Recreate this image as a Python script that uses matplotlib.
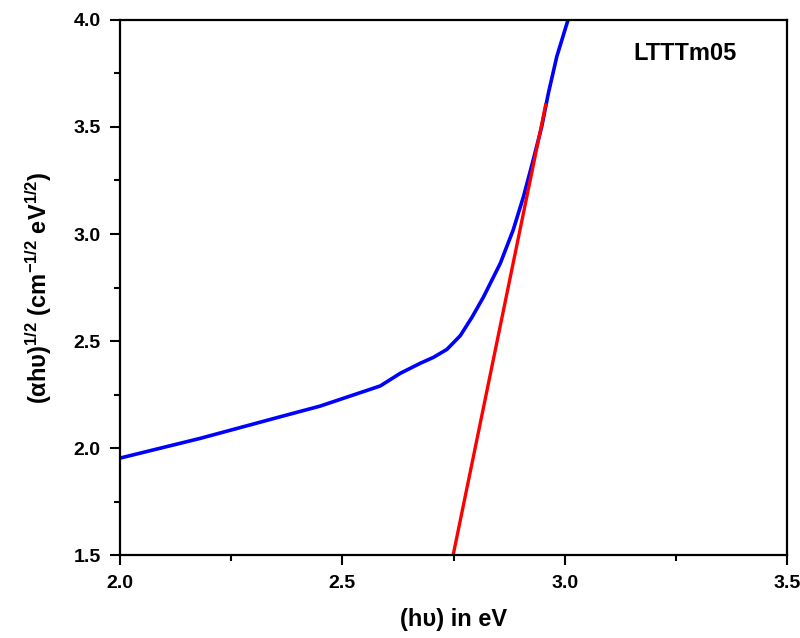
import numpy as np
import matplotlib
matplotlib.use("Agg")
import matplotlib.pyplot as plt

# Tauc plot data
hv_curve = [2.000, 2.180, 2.360, 2.450, 2.585, 2.630, 2.675, 2.705, 2.735,
            2.765, 2.791, 2.817, 2.855, 2.884, 2.907, 2.929, 2.948, 2.963,
            2.982, 3.006]
tauc_curve = [1.953, 2.045, 2.146, 2.196, 2.290, 2.349, 2.396, 2.424, 2.461,
              2.525, 2.610, 2.705, 2.863, 3.019, 3.174, 3.346, 3.501, 3.657,
              3.829, 3.992]

fit_x = [2.749, 2.957]
fit_y = [1.50, 3.603]

sample_name = "LTTTm05"

plt.rcParams["font.family"] = "Liberation Sans"
plt.rcParams["font.weight"] = "bold"
plt.rcParams["mathtext.fontset"] = "custom"
plt.rcParams["mathtext.rm"] = "Liberation Sans:bold"
plt.rcParams["mathtext.it"] = "Liberation Sans:bold"
plt.rcParams["mathtext.bf"] = "Liberation Sans:bold"

fig = plt.figure(figsize=(8, 6.38), dpi=100)
ax = fig.add_axes([0.15, 0.130, 0.834, 0.8387])

ax.plot(hv_curve, tauc_curve, color="#0000ff", linewidth=2.6,
        solid_joinstyle="round")
ax.plot(fit_x, fit_y, color="#ff0000", linewidth=2.4)

ax.set_xlim(2.0, 3.5)
ax.set_ylim(1.5, 4.0)
ax.set_xticks([2.0, 2.5, 3.0, 3.5])
ax.set_yticks([1.5, 2.0, 2.5, 3.0, 3.5, 4.0])
ax.set_xticks(np.arange(2.0, 3.51, 0.25), minor=True)
ax.set_yticks(np.arange(1.5, 4.01, 0.25), minor=True)
ax.xaxis.set_major_formatter(plt.FormatStrFormatter("%.1f"))
ax.yaxis.set_major_formatter(plt.FormatStrFormatter("%.1f"))

ax.tick_params(which="major", direction="out", length=7, width=1.5,
               labelsize=14, pad=7)
ax.tick_params(which="minor", direction="out", length=4, width=1.5)
ax.tick_params(top=False, right=False, which="both")
for s in ax.spines.values():
    s.set_linewidth(1.6)

ax.set_xlabel("(h\u03c5) in eV", fontsize=17, fontweight="bold", labelpad=12)
ax.set_ylabel("(\u03b1h\u03c5)$^{1/2}$ (cm$^{-1/2}$ eV$^{1/2}$)",
              fontsize=17, fontweight="bold", labelpad=14)

ax.text(0.847, 0.937, sample_name, transform=ax.transAxes, fontsize=17,
        fontweight="bold", ha="center", va="center")

fig.savefig("out.png", dpi=100)
